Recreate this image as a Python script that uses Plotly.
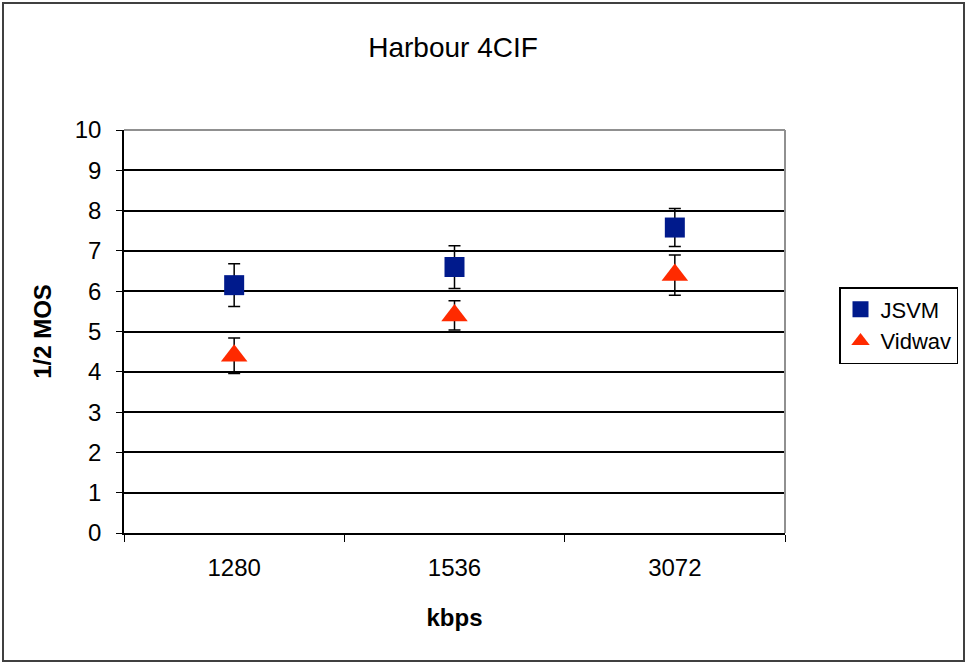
import plotly.graph_objects as go

categories = ["1280", "1536", "3072"]
jsvm = [6.15, 6.6, 7.58]
jsvm_err = [0.53, 0.53, 0.47]
vidwav = [4.4, 5.4, 6.4]
vidwav_err = [0.44, 0.36, 0.5]
y_ticks = list(range(0, 11))

fig = go.Figure()
fig.add_trace(go.Scatter(
    x=categories, y=jsvm, mode="markers", name="JSVM",
    marker=dict(symbol="square", size=20, color="#001A8C"),
    error_y=dict(type="data", array=jsvm_err, color="black", thickness=1.5, width=6),
))
fig.add_trace(go.Scatter(
    x=categories, y=vidwav, mode="markers", name="Vidwav",
    marker=dict(symbol="triangle-up", size=23, color="#FF2A00"),
    error_y=dict(type="data", array=vidwav_err, color="black", thickness=1.5, width=6),
))

font_family = "Liberation Sans, Arial, sans-serif"
L, R, T, B = 124, 785, 130, 533
W, H = 967, 663


def px_x(p):
    return (p - L) / (R - L)


def px_y(p):
    return (B - p) / (B - T)


fig.update_layout(
    width=W, height=H, autosize=False,
    margin=dict(l=L, r=W - R, t=T, b=H - B, autoexpand=False),
    paper_bgcolor="white", plot_bgcolor="white",
    font=dict(family=font_family, color="black", size=24),
    title=dict(text="Harbour 4CIF", x=453 / W, xanchor="center",
               y=1 - 47 / H, yanchor="middle", font=dict(size=28)),
    showlegend=True,
    legend=dict(x=px_x(839), y=px_y(287), xanchor="left", yanchor="top",
                bordercolor="black", borderwidth=1.5, bgcolor="white",
                font=dict(size=22), itemwidth=30),
    xaxis=dict(type="category", range=[-0.5, 2.5], showgrid=False,
               showline=True, linecolor="black", linewidth=1.5,
               ticks="outside", tickson="boundaries", ticklen=7, tickcolor="black",
               tickfont=dict(size=24), ticklabelstandoff=12,
               title=dict(text="<b>kbps</b>", font=dict(size=24), standoff=30)),
    yaxis=dict(range=[0, 10], tickvals=y_ticks, showgrid=True, gridcolor="black", gridwidth=1.5,
               showline=True, linecolor="black", linewidth=1.5,
               ticks="outside", ticklen=6, tickcolor="black", zeroline=False,
               tickfont=dict(size=24), ticklabelstandoff=10,
               title=dict(text="<b>1/2 MOS</b>", font=dict(size=24), standoff=16)),
)

# top and right edges of plot area (gray) and outer chart border
fig.add_shape(type="line", xref="paper", yref="paper", x0=1, x1=1, y0=0, y1=1,
              line=dict(color="#909090", width=2))
fig.add_shape(type="line", xref="paper", yref="paper", x0=0, x1=1, y0=1, y1=1,
              line=dict(color="#909090", width=2))
fig.add_shape(type="rect", xref="paper", yref="paper",
              x0=px_x(3), x1=px_x(964),
              y0=px_y(661), y1=px_y(3),
              line=dict(color="#404040", width=2), fillcolor="rgba(0,0,0,0)")

fig.write_html("out.html",
               config={"displayModeBar": False, "responsive": False},
               post_script="document.body.style.margin='0';document.body.style.overflow='hidden';")
